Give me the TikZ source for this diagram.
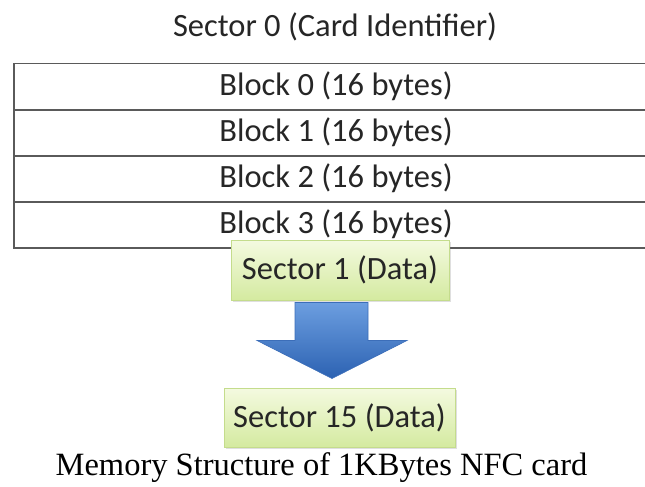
\documentclass[tikz,border=0pt]{standalone}
\usepackage{fontspec}
\setmainfont{Carlito}
\newfontfamily\capfont{Liberation Serif}
\usetikzlibrary{shadows,calc}
\definecolor{txt}{RGB}{38,38,38}
\definecolor{rowline}{RGB}{90,90,90}
\definecolor{gtop}{RGB}{244,250,224}
\definecolor{gbot}{RGB}{212,234,160}
\definecolor{gborder}{RGB}{196,220,140}
\definecolor{btop}{RGB}{108,158,224}
\definecolor{bbot}{RGB}{44,98,178}
\definecolor{bborder}{RGB}{60,110,185}
\begin{document}
\begin{tikzpicture}[x=1pt,y=-1pt]
\tikzset{
  label/.style={font=\fontsize{32.5}{38}\selectfont, text=txt, inner sep=0pt},
  rowbox/.style={draw=rowline, line width=1.8pt, anchor=north west, minimum width=660pt, minimum height=46pt, inner sep=0pt},
  greenbox/.style={draw=gborder, line width=1pt, top color=gtop, bottom color=gbot, inner sep=0pt,
     font=\fontsize{32.5}{38}\selectfont, text=txt,
     drop shadow={shadow xshift=1.5pt, shadow yshift=-1.5pt, opacity=0.25}},
  bluearrow/.style={draw=bborder, line width=0.6pt, top color=btop, bottom color=bbot}
}
\useasboundingbox (0,0) rectangle (645,487);
\clip (0,0) rectangle (645,487);
\node[label] (title) at (335,27) {Sector 0 (Card Identifier)};
\node[rowbox] (r0) at (13,62.7) {};
\node[rowbox] (r1) at (13,109) {};
\node[rowbox] (r2) at (13,155) {};
\node[rowbox] (r3) at (13,201) {};
\node[label] (b0) at (336,86) {Block 0 (16 bytes)};
\node[label] (b1) at (336,132) {Block 1 (16 bytes)};
\node[label] (b2) at (336,178) {Block 2 (16 bytes)};
\node[label] (b3) at (336,224) {Block 3 (16 bytes)};
\node[greenbox, minimum width=218pt, minimum height=60pt] (s1) at (340,270) {Sector 1 (Data)};
\node[greenbox, minimum width=231pt, minimum height=59pt] (s15) at (339.5,417.5) {Sector 15 (Data)};
\coordinate (ab) at (s1.south);
\path[bluearrow] ($(ab)+(-45,2)$) -- ($(ab)+(28,2)$) -- ($(ab)+(28,40)$) -- ($(ab)+(67,40)$)
   -- ($(ab)+(-8,78)$) -- ($(ab)+(-83,40)$) -- ($(ab)+(-45,40)$) -- cycle;
\node[font=\capfont\fontsize{32.5}{38}\selectfont, inner sep=0pt] (cap) at (321.5,468) {Memory Structure of 1KBytes NFC card};
\end{tikzpicture}
\end{document}
